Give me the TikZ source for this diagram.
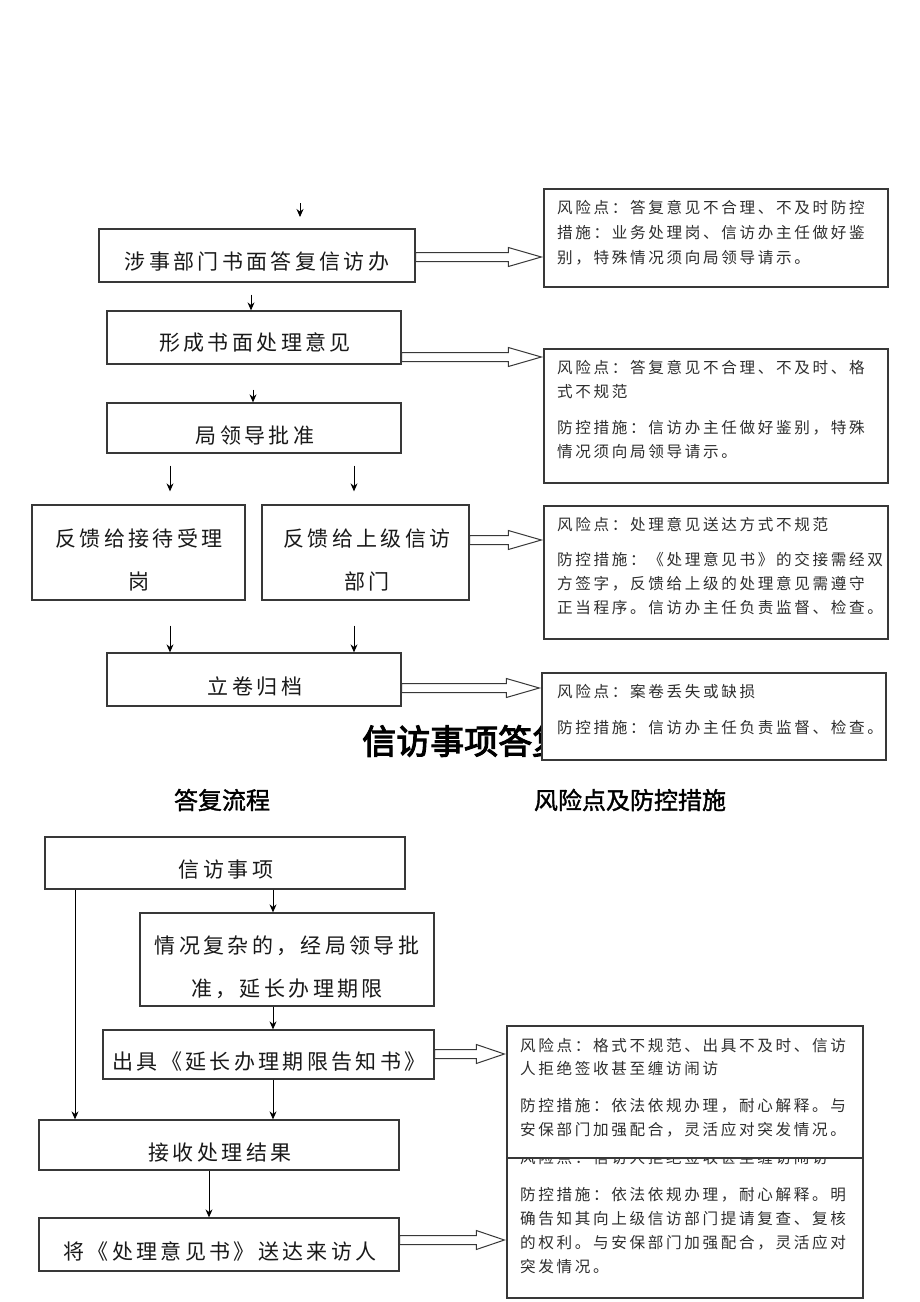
\documentclass[tikz,border=0pt]{standalone}
\usepackage{fontspec}
\newfontfamily\cjk[LetterSpace=16]{Noto Sans CJK SC}
\newfontfamily\cjkr[LetterSpace=17]{Noto Sans CJK SC}
\newfontfamily\cjkhead[FakeBold=1.5]{Noto Sans CJK SC}
\newfontfamily\cjktitle[FakeBold=3]{Noto Sans CJK SC}
\usetikzlibrary{calc,arrows.meta}
\newcommand{\mkbox}[5]{\node[fbox, minimum width={(#4)-(#2)}, minimum height={(#5)-(#3)}] (#1) at ({((#2)+(#4))/2},{((#3)+(#5))/2}) {};}
\newcommand{\hollow}[4]{%
  \path (#1.east |- 0,#3) coordinate (#1h) (#2.west |- 0,#3) coordinate (#2h);
  \draw[harrow] let \p1=(#1h), \p2=(#2h) in
    (\x1,\y1+4.5pt) -- (\x2-#4pt-2pt,\y1+4.5pt) -- (\x2-#4pt-2pt,\y1+9.5pt) -- (\x2-2pt,\y1)
    -- (\x2-#4pt-2pt,\y1-9.5pt) -- (\x2-#4pt-2pt,\y1-4.5pt) -- (\x1,\y1-4.5pt) -- cycle;}
\begin{document}
\begin{tikzpicture}[x=1pt,y=-1pt,
  fbox/.style={draw=black!78, line width=1.3pt, fill=white, inner sep=0pt, rectangle},
  harrow/.style={draw=black!78, line width=1pt, fill=white, line join=miter},
  btext/.style={font=\cjk\fontsize{21}{43}\selectfont, text=black!90, align=center, inner sep=0pt},
  rtext/.style={font=\cjkr\fontsize{15.6}{20}\selectfont, text=black!82, anchor=west, inner sep=0pt},
  varrow/.style={draw=black, line width=0.9pt, -{Stealth[length=8pt,width=7pt]}},
]
\fill[white] (0,0) rectangle (920,1302);
\useasboundingbox (0,0) rectangle (920,1302);

% ---------- upper part ----------
\coordinate (c0) at (300,203);
\coordinate (c0e) at (300,217);
\draw[varrow] (c0) -- (c0e);

\mkbox{b1}{99}{229}{415}{282}
\node[btext] (t1) at (257,262) {涉事部门书面答复信访办};
\mkbox{b2}{107}{311}{401}{364}
\node[btext] (t2) at (255,342) {形成书面处理意见};
\mkbox{b3}{107}{403}{401}{453}
\node[btext] (t3) at (255,436) {局领导批准};
\mkbox{b4}{32}{505}{245}{600}
\node[btext] (t4) at (139,560) {反馈给接待受理\\岗};
\mkbox{b5}{262}{505}{469}{600}
\node[btext] (t5) at (367,560) {反馈给上级信访\\部门};
\mkbox{b6}{107}{653}{401}{706}
\node[btext] (t6) at (255,686) {立卷归档};

\draw[varrow, shorten <=12pt] (b1.south -| 251,0) -- (b2.north -| 251,0);
\draw[varrow, shorten <=25pt] (b2.south -| 253,0) -- (b3.north -| 253,0);
\draw[varrow, shorten <=12pt, shorten >=13pt] (b3.south -| 170,0) -- (b4.north -| 170,0);
\draw[varrow, shorten <=12pt, shorten >=13pt] (b3.south -| 354,0) -- (b5.north -| 354,0);
\draw[varrow, shorten <=25pt] (b4.south -| 170,0) -- (b6.north -| 170,0);
\draw[varrow, shorten <=25pt] (b5.south -| 354,0) -- (b6.north -| 354,0);

\mkbox{r1}{544}{189}{888}{287}
\node[rtext] (r1a) at (557,208) {风险点：答复意见不合理、不及时防控};
\node[rtext] (r1b) at (557,233) {措施：业务处理岗、信访办主任做好鉴};
\node[rtext] (r1c) at (557,258) {别，特殊情况须向局领导请示。};

\mkbox{r2}{544}{349}{888}{483}
\node[rtext] (r2a) at (557,368) {风险点：答复意见不合理、不及时、格};
\node[rtext] (r2b) at (557,392) {式不规范};
\node[rtext] (r2c) at (557,428) {防控措施：信访办主任做好鉴别，特殊};
\node[rtext] (r2d) at (557,452) {情况须向局领导请示。};

\mkbox{r3}{544}{506}{888}{639}
\node[rtext] (r3a) at (557,525) {风险点：处理意见送达方式不规范};
\node[rtext] (r3b) at (557,560) {防控措施：《处理意见书》的交接需经双};
\node[rtext] (r3c) at (557,584) {方签字，反馈给上级的处理意见需遵守};
\node[rtext] (r3d) at (557,608) {正当程序。信访办主任负责监督、检查。};

% title (partly hidden by the box drawn after it)
\node[font=\cjktitle\fontsize{34}{40}\selectfont, anchor=west, inner sep=0pt] (title) at (362,741) {信访事项答复};

\mkbox{r4}{542}{673}{886}{760}
\node[rtext] (r4a) at (557,692) {风险点：案卷丢失或缺损};
\node[rtext] (r4b) at (557,728) {防控措施：信访办主任负责监督、检查。};

\hollow{b1}{r1}{257}{33}
\hollow{b2}{r2}{357}{33}
\hollow{b5}{r3}{540}{33}
\hollow{b6}{r4}{688}{33}

% headings
\node[font=\cjkhead\fontsize{24}{28}\selectfont, inner sep=0pt] (h1) at (222,800) {答复流程};
\node[font=\cjkhead\fontsize{24}{28}\selectfont, inner sep=0pt] (h2) at (630,800) {风险点及防控措施};

% ---------- lower part ----------
\mkbox{b7}{45}{837}{405}{889}
\node[btext] (t7) at (226,870) {信访事项};
\mkbox{b8}{140}{913}{434}{1006}
\node[btext] (t8) at (287,967) {情况复杂的，经局领导批\\准，延长办理期限};
\mkbox{b10}{103}{1030}{434}{1079}
\node[btext] (t10) at (269,1062) {出具《延长办理期限告知书》};
\mkbox{b9}{39}{1120}{399}{1170}
\node[btext] (t9) at (220,1153) {接收处理结果};
\mkbox{b11}{39}{1218}{399}{1271}
\node[btext] (t11) at (220,1251) {将《处理意见书》送达来访人};

\draw[varrow] (b7.south -| 75,0) -- (b9.north -| 75,0);
\draw[varrow] (b7.south -| 273,0) -- (b8.north -| 273,0);
\draw[varrow] (b8.south -| 273,0) -- (b10.north -| 273,0);
\draw[varrow] (b10.south -| 273,0) -- (b9.north -| 273,0);
\draw[varrow] (b9.south -| 209,0) -- (b11.north -| 209,0);

\mkbox{r6}{507}{1140}{863}{1298}
\node[rtext] (r6a) at (520,1158) {风险点：信访人拒绝签收甚至缠访闹访};
\node[rtext] (r6b) at (520,1195) {防控措施：依法依规办理，耐心解释。明};
\node[rtext] (r6c) at (520,1219) {确告知其向上级信访部门提请复查、复核};
\node[rtext] (r6d) at (520,1243) {的权利。与安保部门加强配合，灵活应对};
\node[rtext] (r6e) at (520,1267) {突发情况。};

\mkbox{r5}{507}{1026}{863}{1158}
\node[rtext] (r5a) at (520,1046) {风险点：格式不规范、出具不及时、信访};
\node[rtext] (r5b) at (520,1069) {人拒绝签收甚至缠访闹访};
\node[rtext] (r5c) at (520,1106) {防控措施：依法依规办理，耐心解释。与};
\node[rtext] (r5d) at (520,1130) {安保部门加强配合，灵活应对突发情况。};

\hollow{b10}{r5}{1054}{28}
\hollow{b11}{r6}{1240}{28}
\end{tikzpicture}
\end{document}
